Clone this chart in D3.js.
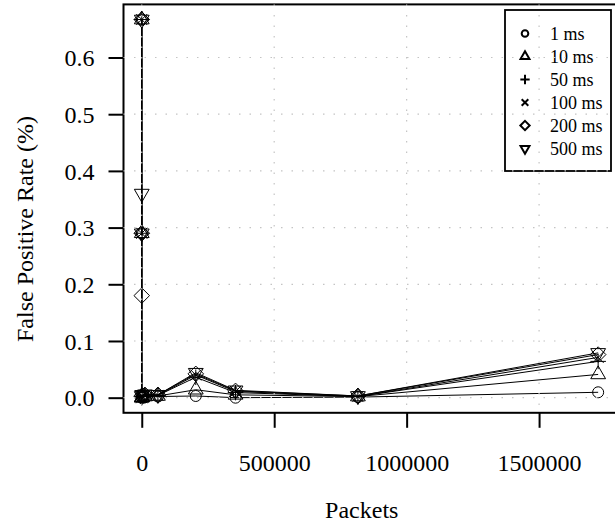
<!DOCTYPE html>
<html>
<head>
<meta charset="utf-8">
<script src="https://cdn.jsdelivr.net/npm/d3@7"></script>
<style>
    body { margin: 0; background: #fff; }
    #chart-area { width: 615px; height: 527px; }
</style>
</head>
<body>
<div id="chart-area"></div>
<script>

// packets per trace (x) and false positive rate (%) per window size
const packets = [3, 7, 20, 150, 1500, 12000, 61000, 204000, 354000, 816000, 1723000];

const windows = ["1 ms", "10 ms", "50 ms", "100 ms", "200 ms", "500 ms"];

const fpr1ms   = [0.667, 0.29, 0.000, 0.000, 0.000, 0.001, 0.002, 0.003, 0.000, 0.001, 0.0095];
const fpr10ms  = [0.667, 0.29, 0.000, 0.000, 0.001, 0.002, 0.003, 0.014, 0.005, 0.002, 0.041];
const fpr50ms  = [0.667, 0.29, 0.000, 0.001, 0.002, 0.003, 0.004, 0.036, 0.009, 0.002, 0.064];
const fpr100ms = [0.667, 0.29, 0.000, 0.002, 0.003, 0.004, 0.004, 0.040, 0.011, 0.002, 0.071];
const fpr200ms = [0.667, 0.29, 0.180, 0.002, 0.004, 0.005, 0.005, 0.042, 0.012, 0.003, 0.076];
const fpr500ms = [0.667, 0.29, 0.360, 0.003, 0.005, 0.006, 0.005, 0.044, 0.013, 0.003, 0.079];

const xTicks = [0, 500000, 1000000, 1500000];
const yTicks = [0, 0.1, 0.2, 0.3, 0.4, 0.5, 0.6];

// R pch codes 1..6
const pchs = [1, 2, 3, 4, 5, 6];

const FONT = "Liberation Serif";

let series = [fpr1ms, fpr10ms, fpr50ms, fpr100ms, fpr200ms, fpr500ms].map((vals, i) => ({
    name: windows[i],
    pch: pchs[i],
    values: vals.map((v, j) => ({x: packets[j], y: v}))
}));

// path for an R style plotting symbol, r = circle radius
function symbolPath(pch, r) {
    let t = 1.555 * r, h = t * Math.sqrt(3) / 2, s = Math.SQRT2 * r;
    switch (pch) {
        case 1: return `M${r},0A${r},${r} 0 1,1 ${-r},0A${r},${r} 0 1,1 ${r},0Z`;
        case 2: return `M0,${-t}L${h},${t / 2}L${-h},${t / 2}Z`;
        case 3: return `M${-s},0H${s}M0,${-s}V${s}`;
        case 4: return `M${-r},${-r}L${r},${r}M${-r},${r}L${r},${-r}`;
        case 5: return `M0,${-s}L${s},0L0,${s}L${-s},0Z`;
        case 6: return `M0,${t}L${h},${-t / 2}L${-h},${-t / 2}Z`;
    }
}

let margin = {top: 4.4, left: 123.5, bottom: 412.8, right: 616.4};
let width = 615, height = 527;

let svg = d3.select("#chart-area").append("svg")
    .attr("width", width)
    .attr("height", height)
    .attr("font-family", FONT);

// R style 4% padding on both axes
let xMax = d3.max(packets), xPad = 0.04 * xMax;
let yMax = 0.667, yPad = 0.04 * yMax;

let x = d3.scaleLinear()
    .domain([-xPad, xMax + xPad])
    .range([margin.left, margin.right]);

let y = d3.scaleLinear()
    .domain([-yPad, yMax + yPad])
    .range([margin.bottom, margin.top]);

// axes
let xAxis = d3.axisBottom(x)
    .tickValues(xTicks)
    .tickFormat(d3.format("d"))
    .tickSize(15)
    .tickSizeOuter(0)
    .tickPadding(26);

let yAxis = d3.axisLeft(y)
    .tickValues(yTicks)
    .tickFormat(d3.format(".1f"))
    .tickSize(15)
    .tickSizeOuter(0)
    .tickPadding(14);

let xAxisGroup = svg.append("g")
    .attr("class", "x-axis axis")
    .attr("transform", `translate(0, ${margin.bottom})`)
    .call(xAxis);

let yAxisGroup = svg.append("g")
    .attr("class", "y-axis axis")
    .attr("transform", `translate(${margin.left}, 0)`)
    .call(yAxis);

[xAxisGroup, yAxisGroup].forEach(g => {
    g.attr("font-family", FONT).attr("font-size", 24);
    g.select(".domain").remove();
    g.selectAll(".tick line").attr("stroke", "#000").attr("stroke-width", 2);
    g.selectAll(".tick text").attr("fill", "#000");
});
yAxisGroup.selectAll(".tick text").attr("dy", "0.34em");

// lines
let line = d3.line()
    .x(d => x(d.x))
    .y(d => y(d.y));

svg.append("g").selectAll(".series-line")
    .data(series).enter().append("path")
    .attr("class", "series-line")
    .attr("d", d => line(d.values))
    .attr("fill", "none")
    .attr("stroke", "#000")
    .attr("stroke-width", 1);

// points
let pointGroups = svg.append("g").selectAll(".series-points")
    .data(series).enter().append("g")
    .attr("class", "series-points");

pointGroups.selectAll("path")
    .data(d => d.values.map(v => ({x: v.x, y: v.y, pch: d.pch})))
    .enter().append("path")
    .attr("transform", d => `translate(${x(d.x)}, ${y(d.y)})`)
    .attr("d", d => symbolPath(d.pch, 5.5))
    .attr("fill", "none")
    .attr("stroke", "#000")
    .attr("stroke-width", 1);

// plot box
svg.append("rect")
    .attr("x", margin.left)
    .attr("y", margin.top)
    .attr("width", margin.right - margin.left)
    .attr("height", margin.bottom - margin.top)
    .attr("fill", "none")
    .attr("stroke", "#000")
    .attr("stroke-width", 2);

// legend (transparent, grid shows through)
let legend = svg.append("g").attr("class", "legend");

legend.append("rect")
    .attr("x", 505).attr("y", 10)
    .attr("width", 106).attr("height", 161)
    .attr("fill", "none")
    .attr("stroke", "#000")
    .attr("stroke-width", 1.8);

let items = legend.selectAll(".item")
    .data(series).enter().append("g")
    .attr("class", "item")
    .attr("transform", (d, i) => `translate(525, ${33.5 + i * 23})`);

items.append("path")
    .attr("d", d => symbolPath(d.pch, 3.3))
    .attr("fill", "none")
    .attr("stroke", "#000")
    .attr("stroke-width", 2);

items.append("text")
    .attr("x", 25)
    .attr("dy", "0.34em")
    .attr("font-family", FONT)
    .attr("font-size", 18)
    .text(d => d.name);

// grid, drawn last like R's grid() call
let grid = svg.append("g").attr("class", "grid")
    .attr("stroke", "#c4c4c4")
    .attr("stroke-width", 1.2)
    .attr("stroke-dasharray", "1.5,9");

grid.selectAll(".vgrid").data(xTicks).enter().append("line")
    .attr("x1", d => x(d)).attr("x2", d => x(d))
    .attr("y1", margin.top).attr("y2", margin.bottom);

grid.selectAll(".hgrid").data(yTicks).enter().append("line")
    .attr("x1", margin.left).attr("x2", margin.right)
    .attr("y1", d => y(d)).attr("y2", d => y(d));

// axis titles
svg.append("text")
    .attr("x", (margin.left + 600) / 2)
    .attr("y", 518)
    .attr("text-anchor", "middle")
    .attr("font-family", FONT)
    .attr("font-size", 24)
    .text("Packets");

svg.append("text")
    .attr("transform", "translate(33, 229) rotate(-90)")
    .attr("text-anchor", "middle")
    .attr("font-family", FONT)
    .attr("font-size", 24)
    .text("False Positive Rate (%)");

</script>
</body>
</html>
